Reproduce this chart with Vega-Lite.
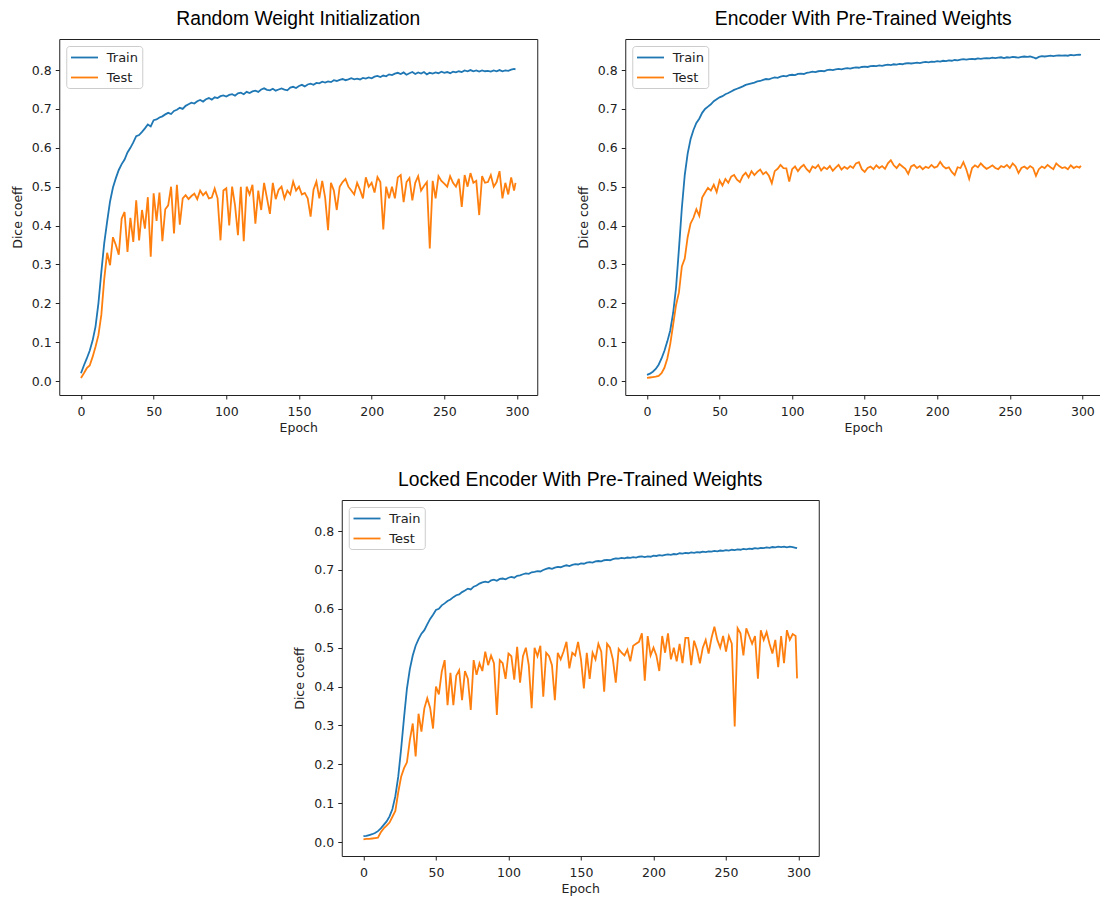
{
"$schema": "https://vega.github.io/schema/vega-lite/v6.json",
"padding": {"left": 10, "top": 9, "right": 0, "bottom": 0},
"background": "white",
"datasets": {
"a": [
{"e":0,"Train":0.020,"Test":0.008},{"e":2,"Train":0.040,"Test":0.020},{"e":4,"Train":0.058,"Test":0.033},{"e":6,"Train":0.078,"Test":0.040},{"e":8,"Train":0.104,"Test":0.062},{"e":10,"Train":0.140,"Test":0.088},{"e":12,"Train":0.200,"Test":0.118},{"e":14,"Train":0.280,"Test":0.170},{"e":16,"Train":0.355,"Test":0.262},{"e":18,"Train":0.410,"Test":0.330},
{"e":20,"Train":0.462,"Test":0.298},{"e":22,"Train":0.498,"Test":0.370},{"e":24,"Train":0.522,"Test":0.350},{"e":26,"Train":0.543,"Test":0.325},{"e":28,"Train":0.558,"Test":0.418},{"e":30,"Train":0.570,"Test":0.435},{"e":32,"Train":0.588,"Test":0.332},{"e":34,"Train":0.600,"Test":0.420},{"e":36,"Train":0.614,"Test":0.358},{"e":38,"Train":0.630,"Test":0.465},
{"e":40,"Train":0.633,"Test":0.362},{"e":42,"Train":0.641,"Test":0.440},{"e":44,"Train":0.650,"Test":0.392},{"e":46,"Train":0.660,"Test":0.473},{"e":48,"Train":0.655,"Test":0.320},{"e":50,"Train":0.671,"Test":0.483},{"e":52,"Train":0.673,"Test":0.412},{"e":54,"Train":0.678,"Test":0.485},{"e":56,"Train":0.681,"Test":0.360},{"e":58,"Train":0.686,"Test":0.442},
{"e":60,"Train":0.690,"Test":0.452},{"e":62,"Train":0.687,"Test":0.500},{"e":64,"Train":0.695,"Test":0.380},{"e":66,"Train":0.698,"Test":0.505},{"e":68,"Train":0.703,"Test":0.402},{"e":70,"Train":0.700,"Test":0.470},{"e":72,"Train":0.708,"Test":0.478},{"e":74,"Train":0.712,"Test":0.468},{"e":76,"Train":0.716,"Test":0.476},{"e":78,"Train":0.714,"Test":0.482},
{"e":80,"Train":0.720,"Test":0.468},{"e":82,"Train":0.723,"Test":0.490},{"e":84,"Train":0.719,"Test":0.478},{"e":86,"Train":0.725,"Test":0.486},{"e":88,"Train":0.728,"Test":0.470},{"e":90,"Train":0.724,"Test":0.472},{"e":92,"Train":0.730,"Test":0.495},{"e":94,"Train":0.728,"Test":0.470},{"e":96,"Train":0.733,"Test":0.362},{"e":98,"Train":0.735,"Test":0.490},
{"e":100,"Train":0.732,"Test":0.496},{"e":102,"Train":0.736,"Test":0.400},{"e":104,"Train":0.738,"Test":0.500},{"e":106,"Train":0.734,"Test":0.452},{"e":108,"Train":0.740,"Test":0.375},{"e":110,"Train":0.742,"Test":0.500},{"e":112,"Train":0.738,"Test":0.360},{"e":114,"Train":0.744,"Test":0.500},{"e":116,"Train":0.741,"Test":0.480},{"e":118,"Train":0.745,"Test":0.505},
{"e":120,"Train":0.747,"Test":0.405},{"e":122,"Train":0.744,"Test":0.490},{"e":124,"Train":0.750,"Test":0.440},{"e":126,"Train":0.753,"Test":0.510},{"e":128,"Train":0.749,"Test":0.470},{"e":130,"Train":0.748,"Test":0.430},{"e":132,"Train":0.752,"Test":0.510},{"e":134,"Train":0.747,"Test":0.468},{"e":136,"Train":0.750,"Test":0.492},{"e":138,"Train":0.753,"Test":0.500},
{"e":140,"Train":0.750,"Test":0.470},{"e":142,"Train":0.748,"Test":0.490},{"e":144,"Train":0.755,"Test":0.480},{"e":146,"Train":0.757,"Test":0.513},{"e":148,"Train":0.754,"Test":0.490},{"e":150,"Train":0.759,"Test":0.500},{"e":152,"Train":0.762,"Test":0.480},{"e":154,"Train":0.758,"Test":0.484},{"e":156,"Train":0.763,"Test":0.470},{"e":158,"Train":0.765,"Test":0.423},
{"e":160,"Train":0.762,"Test":0.492},{"e":162,"Train":0.767,"Test":0.513},{"e":164,"Train":0.766,"Test":0.470},{"e":166,"Train":0.770,"Test":0.515},{"e":168,"Train":0.768,"Test":0.472},{"e":170,"Train":0.771,"Test":0.388},{"e":172,"Train":0.769,"Test":0.510},{"e":174,"Train":0.774,"Test":0.490},{"e":176,"Train":0.772,"Test":0.440},{"e":178,"Train":0.775,"Test":0.500},
{"e":180,"Train":0.777,"Test":0.512},{"e":182,"Train":0.774,"Test":0.520},{"e":184,"Train":0.776,"Test":0.500},{"e":186,"Train":0.779,"Test":0.490},{"e":188,"Train":0.776,"Test":0.480},{"e":190,"Train":0.778,"Test":0.510},{"e":192,"Train":0.776,"Test":0.492},{"e":194,"Train":0.780,"Test":0.470},{"e":196,"Train":0.778,"Test":0.524},{"e":198,"Train":0.781,"Test":0.500},
{"e":200,"Train":0.779,"Test":0.510},{"e":202,"Train":0.783,"Test":0.485},{"e":204,"Train":0.785,"Test":0.525},{"e":206,"Train":0.782,"Test":0.512},{"e":208,"Train":0.786,"Test":0.390},{"e":210,"Train":0.784,"Test":0.500},{"e":212,"Train":0.789,"Test":0.470},{"e":214,"Train":0.787,"Test":0.500},{"e":216,"Train":0.791,"Test":0.470},{"e":218,"Train":0.793,"Test":0.524},
{"e":220,"Train":0.790,"Test":0.530},{"e":222,"Train":0.794,"Test":0.460},{"e":224,"Train":0.788,"Test":0.512},{"e":226,"Train":0.792,"Test":0.522},{"e":228,"Train":0.795,"Test":0.465},{"e":230,"Train":0.790,"Test":0.510},{"e":232,"Train":0.794,"Test":0.527},{"e":234,"Train":0.791,"Test":0.490},{"e":236,"Train":0.795,"Test":0.502},{"e":238,"Train":0.789,"Test":0.512},
{"e":240,"Train":0.793,"Test":0.341},{"e":242,"Train":0.791,"Test":0.515},{"e":244,"Train":0.794,"Test":0.470},{"e":246,"Train":0.792,"Test":0.527},{"e":248,"Train":0.796,"Test":0.515},{"e":250,"Train":0.793,"Test":0.508},{"e":252,"Train":0.795,"Test":0.500},{"e":254,"Train":0.792,"Test":0.527},{"e":256,"Train":0.796,"Test":0.510},{"e":258,"Train":0.794,"Test":0.500},
{"e":260,"Train":0.797,"Test":0.520},{"e":262,"Train":0.795,"Test":0.448},{"e":264,"Train":0.799,"Test":0.530},{"e":266,"Train":0.797,"Test":0.500},{"e":268,"Train":0.800,"Test":0.535},{"e":270,"Train":0.797,"Test":0.510},{"e":272,"Train":0.799,"Test":0.515},{"e":274,"Train":0.796,"Test":0.427},{"e":276,"Train":0.799,"Test":0.527},{"e":278,"Train":0.797,"Test":0.510},
{"e":280,"Train":0.798,"Test":0.512},{"e":282,"Train":0.796,"Test":0.530},{"e":284,"Train":0.799,"Test":0.500},{"e":286,"Train":0.797,"Test":0.512},{"e":288,"Train":0.800,"Test":0.540},{"e":290,"Train":0.797,"Test":0.470},{"e":292,"Train":0.799,"Test":0.510},{"e":294,"Train":0.798,"Test":0.480},{"e":296,"Train":0.801,"Test":0.524},{"e":298,"Train":0.803,"Test":0.490},{"e":299,"Train":0.802,"Test":0.510}
],
"b": [
{"e":0,"Train":0.016,"Test":0.008},{"e":2,"Train":0.019,"Test":0.009},{"e":4,"Train":0.024,"Test":0.010},{"e":6,"Train":0.031,"Test":0.011},{"e":8,"Train":0.042,"Test":0.013},{"e":10,"Train":0.058,"Test":0.020},{"e":12,"Train":0.078,"Test":0.034},{"e":14,"Train":0.102,"Test":0.058},{"e":16,"Train":0.130,"Test":0.095},{"e":18,"Train":0.175,"Test":0.145},
{"e":20,"Train":0.240,"Test":0.195},{"e":22,"Train":0.340,"Test":0.228},{"e":24,"Train":0.445,"Test":0.295},{"e":26,"Train":0.530,"Test":0.315},{"e":28,"Train":0.585,"Test":0.370},{"e":30,"Train":0.622,"Test":0.405},{"e":32,"Train":0.646,"Test":0.420},{"e":34,"Train":0.664,"Test":0.442},{"e":36,"Train":0.675,"Test":0.425},{"e":38,"Train":0.690,"Test":0.472},
{"e":40,"Train":0.700,"Test":0.485},{"e":42,"Train":0.706,"Test":0.497},{"e":44,"Train":0.712,"Test":0.490},{"e":46,"Train":0.720,"Test":0.505},{"e":48,"Train":0.725,"Test":0.486},{"e":50,"Train":0.730,"Test":0.516},{"e":52,"Train":0.733,"Test":0.503},{"e":54,"Train":0.738,"Test":0.520},{"e":56,"Train":0.741,"Test":0.510},{"e":58,"Train":0.745,"Test":0.526},
{"e":60,"Train":0.749,"Test":0.530},{"e":62,"Train":0.752,"Test":0.518},{"e":64,"Train":0.755,"Test":0.512},{"e":66,"Train":0.758,"Test":0.528},{"e":68,"Train":0.762,"Test":0.536},{"e":70,"Train":0.764,"Test":0.524},{"e":72,"Train":0.766,"Test":0.540},{"e":74,"Train":0.768,"Test":0.530},{"e":76,"Train":0.771,"Test":0.538},{"e":78,"Train":0.772,"Test":0.544},
{"e":80,"Train":0.775,"Test":0.532},{"e":82,"Train":0.777,"Test":0.538},{"e":84,"Train":0.776,"Test":0.528},{"e":86,"Train":0.779,"Test":0.509},{"e":88,"Train":0.781,"Test":0.540},{"e":90,"Train":0.780,"Test":0.546},{"e":92,"Train":0.783,"Test":0.556},{"e":94,"Train":0.785,"Test":0.548},{"e":96,"Train":0.784,"Test":0.547},{"e":98,"Train":0.787,"Test":0.513},
{"e":100,"Train":0.788,"Test":0.545},{"e":102,"Train":0.787,"Test":0.552},{"e":104,"Train":0.790,"Test":0.540},{"e":106,"Train":0.791,"Test":0.550},{"e":108,"Train":0.790,"Test":0.556},{"e":110,"Train":0.793,"Test":0.545},{"e":112,"Train":0.794,"Test":0.538},{"e":114,"Train":0.796,"Test":0.552},{"e":116,"Train":0.795,"Test":0.548},{"e":118,"Train":0.797,"Test":0.556},
{"e":120,"Train":0.798,"Test":0.542},{"e":122,"Train":0.797,"Test":0.550},{"e":124,"Train":0.800,"Test":0.545},{"e":126,"Train":0.801,"Test":0.553},{"e":128,"Train":0.800,"Test":0.541},{"e":130,"Train":0.802,"Test":0.549},{"e":132,"Train":0.803,"Test":0.556},{"e":134,"Train":0.802,"Test":0.544},{"e":136,"Train":0.804,"Test":0.551},{"e":138,"Train":0.805,"Test":0.546},
{"e":140,"Train":0.804,"Test":0.553},{"e":142,"Train":0.806,"Test":0.548},{"e":144,"Train":0.807,"Test":0.560},{"e":146,"Train":0.806,"Test":0.563},{"e":148,"Train":0.808,"Test":0.545},{"e":150,"Train":0.809,"Test":0.538},{"e":152,"Train":0.808,"Test":0.548},{"e":154,"Train":0.810,"Test":0.552},{"e":156,"Train":0.811,"Test":0.545},{"e":158,"Train":0.810,"Test":0.555},
{"e":160,"Train":0.812,"Test":0.548},{"e":162,"Train":0.811,"Test":0.553},{"e":164,"Train":0.813,"Test":0.546},{"e":166,"Train":0.814,"Test":0.560},{"e":168,"Train":0.813,"Test":0.568},{"e":170,"Train":0.815,"Test":0.555},{"e":172,"Train":0.814,"Test":0.548},{"e":174,"Train":0.816,"Test":0.558},{"e":176,"Train":0.815,"Test":0.552},{"e":178,"Train":0.817,"Test":0.546},
{"e":180,"Train":0.818,"Test":0.533},{"e":182,"Train":0.817,"Test":0.552},{"e":184,"Train":0.818,"Test":0.556},{"e":186,"Train":0.819,"Test":0.548},{"e":188,"Train":0.818,"Test":0.553},{"e":190,"Train":0.820,"Test":0.545},{"e":192,"Train":0.821,"Test":0.551},{"e":194,"Train":0.820,"Test":0.548},{"e":196,"Train":0.822,"Test":0.556},{"e":198,"Train":0.821,"Test":0.549},
{"e":200,"Train":0.823,"Test":0.552},{"e":202,"Train":0.822,"Test":0.564},{"e":204,"Train":0.824,"Test":0.553},{"e":206,"Train":0.823,"Test":0.547},{"e":208,"Train":0.825,"Test":0.550},{"e":210,"Train":0.824,"Test":0.538},{"e":212,"Train":0.826,"Test":0.530},{"e":214,"Train":0.825,"Test":0.550},{"e":216,"Train":0.827,"Test":0.548},{"e":218,"Train":0.828,"Test":0.563},
{"e":220,"Train":0.827,"Test":0.545},{"e":222,"Train":0.828,"Test":0.520},{"e":224,"Train":0.829,"Test":0.548},{"e":226,"Train":0.828,"Test":0.555},{"e":228,"Train":0.830,"Test":0.550},{"e":230,"Train":0.829,"Test":0.560},{"e":232,"Train":0.830,"Test":0.552},{"e":234,"Train":0.831,"Test":0.546},{"e":236,"Train":0.830,"Test":0.550},{"e":238,"Train":0.832,"Test":0.555},
{"e":240,"Train":0.831,"Test":0.548},{"e":242,"Train":0.832,"Test":0.545},{"e":244,"Train":0.833,"Test":0.553},{"e":246,"Train":0.831,"Test":0.550},{"e":248,"Train":0.833,"Test":0.556},{"e":250,"Train":0.832,"Test":0.548},{"e":252,"Train":0.834,"Test":0.560},{"e":254,"Train":0.833,"Test":0.552},{"e":256,"Train":0.832,"Test":0.535},{"e":258,"Train":0.834,"Test":0.548},
{"e":260,"Train":0.835,"Test":0.552},{"e":262,"Train":0.834,"Test":0.546},{"e":264,"Train":0.835,"Test":0.553},{"e":266,"Train":0.833,"Test":0.548},{"e":268,"Train":0.830,"Test":0.528},{"e":270,"Train":0.834,"Test":0.545},{"e":272,"Train":0.836,"Test":0.552},{"e":274,"Train":0.835,"Test":0.548},{"e":276,"Train":0.836,"Test":0.556},{"e":278,"Train":0.837,"Test":0.550},
{"e":280,"Train":0.836,"Test":0.545},{"e":282,"Train":0.837,"Test":0.560},{"e":284,"Train":0.838,"Test":0.553},{"e":286,"Train":0.837,"Test":0.548},{"e":288,"Train":0.838,"Test":0.550},{"e":290,"Train":0.837,"Test":0.545},{"e":292,"Train":0.839,"Test":0.555},{"e":294,"Train":0.838,"Test":0.548},{"e":296,"Train":0.839,"Test":0.552},{"e":298,"Train":0.840,"Test":0.549},{"e":299,"Train":0.839,"Test":0.554}
],
"c": [
{"e":0,"Train":0.015,"Test":0.007},{"e":2,"Train":0.016,"Test":0.008},{"e":4,"Train":0.018,"Test":0.008},{"e":6,"Train":0.020,"Test":0.009},{"e":8,"Train":0.023,"Test":0.010},{"e":10,"Train":0.028,"Test":0.011},{"e":12,"Train":0.035,"Test":0.025},{"e":14,"Train":0.044,"Test":0.035},{"e":16,"Train":0.053,"Test":0.042},{"e":18,"Train":0.066,"Test":0.050},
{"e":20,"Train":0.085,"Test":0.065},{"e":22,"Train":0.118,"Test":0.080},{"e":24,"Train":0.168,"Test":0.128},{"e":26,"Train":0.240,"Test":0.168},{"e":28,"Train":0.320,"Test":0.190},{"e":30,"Train":0.395,"Test":0.205},{"e":32,"Train":0.445,"Test":0.262},{"e":34,"Train":0.480,"Test":0.305},{"e":36,"Train":0.505,"Test":0.220},{"e":38,"Train":0.522,"Test":0.330},
{"e":40,"Train":0.536,"Test":0.284},{"e":42,"Train":0.545,"Test":0.344},{"e":44,"Train":0.560,"Test":0.370},{"e":46,"Train":0.574,"Test":0.345},{"e":48,"Train":0.585,"Test":0.292},{"e":50,"Train":0.597,"Test":0.400},{"e":52,"Train":0.600,"Test":0.380},{"e":54,"Train":0.609,"Test":0.438},{"e":56,"Train":0.614,"Test":0.468},{"e":58,"Train":0.620,"Test":0.352},
{"e":60,"Train":0.624,"Test":0.435},{"e":62,"Train":0.630,"Test":0.352},{"e":64,"Train":0.635,"Test":0.428},{"e":66,"Train":0.637,"Test":0.442},{"e":68,"Train":0.643,"Test":0.365},{"e":70,"Train":0.647,"Test":0.440},{"e":72,"Train":0.652,"Test":0.420},{"e":74,"Train":0.650,"Test":0.340},{"e":76,"Train":0.657,"Test":0.468},{"e":78,"Train":0.660,"Test":0.430},
{"e":80,"Train":0.665,"Test":0.460},{"e":82,"Train":0.668,"Test":0.440},{"e":84,"Train":0.670,"Test":0.490},{"e":86,"Train":0.668,"Test":0.455},{"e":88,"Train":0.673,"Test":0.480},{"e":90,"Train":0.675,"Test":0.460},{"e":92,"Train":0.672,"Test":0.327},{"e":94,"Train":0.677,"Test":0.468},{"e":96,"Train":0.678,"Test":0.460},{"e":98,"Train":0.676,"Test":0.420},
{"e":100,"Train":0.680,"Test":0.485},{"e":102,"Train":0.682,"Test":0.478},{"e":104,"Train":0.680,"Test":0.418},{"e":106,"Train":0.685,"Test":0.502},{"e":108,"Train":0.686,"Test":0.410},{"e":110,"Train":0.689,"Test":0.478},{"e":112,"Train":0.691,"Test":0.500},{"e":114,"Train":0.690,"Test":0.455},{"e":116,"Train":0.694,"Test":0.344},{"e":118,"Train":0.695,"Test":0.500},
{"e":120,"Train":0.697,"Test":0.478},{"e":122,"Train":0.696,"Test":0.505},{"e":124,"Train":0.700,"Test":0.374},{"e":126,"Train":0.703,"Test":0.487},{"e":128,"Train":0.705,"Test":0.478},{"e":130,"Train":0.703,"Test":0.455},{"e":132,"Train":0.706,"Test":0.365},{"e":134,"Train":0.708,"Test":0.487},{"e":136,"Train":0.707,"Test":0.470},{"e":138,"Train":0.710,"Test":0.490},
{"e":140,"Train":0.712,"Test":0.515},{"e":142,"Train":0.710,"Test":0.447},{"e":144,"Train":0.713,"Test":0.487},{"e":146,"Train":0.715,"Test":0.480},{"e":148,"Train":0.714,"Test":0.515},{"e":150,"Train":0.717,"Test":0.470},{"e":152,"Train":0.716,"Test":0.395},{"e":154,"Train":0.719,"Test":0.487},{"e":156,"Train":0.720,"Test":0.420},{"e":158,"Train":0.719,"Test":0.487},
{"e":160,"Train":0.722,"Test":0.470},{"e":162,"Train":0.723,"Test":0.510},{"e":164,"Train":0.722,"Test":0.490},{"e":166,"Train":0.725,"Test":0.387},{"e":168,"Train":0.726,"Test":0.510},{"e":170,"Train":0.725,"Test":0.500},{"e":172,"Train":0.728,"Test":0.470},{"e":174,"Train":0.730,"Test":0.410},{"e":176,"Train":0.729,"Test":0.497},{"e":178,"Train":0.731,"Test":0.487},
{"e":180,"Train":0.730,"Test":0.480},{"e":182,"Train":0.732,"Test":0.495},{"e":184,"Train":0.731,"Test":0.465},{"e":186,"Train":0.733,"Test":0.505},{"e":188,"Train":0.732,"Test":0.510},{"e":190,"Train":0.734,"Test":0.515},{"e":192,"Train":0.735,"Test":0.537},{"e":194,"Train":0.733,"Test":0.415},{"e":196,"Train":0.735,"Test":0.530},{"e":198,"Train":0.734,"Test":0.480},
{"e":200,"Train":0.737,"Test":0.500},{"e":202,"Train":0.736,"Test":0.480},{"e":204,"Train":0.738,"Test":0.440},{"e":206,"Train":0.737,"Test":0.530},{"e":208,"Train":0.739,"Test":0.487},{"e":210,"Train":0.740,"Test":0.537},{"e":212,"Train":0.739,"Test":0.470},{"e":214,"Train":0.741,"Test":0.500},{"e":216,"Train":0.740,"Test":0.465},{"e":218,"Train":0.743,"Test":0.510},
{"e":220,"Train":0.742,"Test":0.460},{"e":222,"Train":0.744,"Test":0.525},{"e":224,"Train":0.743,"Test":0.525},{"e":226,"Train":0.745,"Test":0.455},{"e":228,"Train":0.744,"Test":0.518},{"e":230,"Train":0.746,"Test":0.495},{"e":232,"Train":0.745,"Test":0.460},{"e":234,"Train":0.747,"Test":0.500},{"e":236,"Train":0.746,"Test":0.520},{"e":238,"Train":0.748,"Test":0.485},
{"e":240,"Train":0.747,"Test":0.525},{"e":242,"Train":0.749,"Test":0.554},{"e":244,"Train":0.748,"Test":0.520},{"e":246,"Train":0.750,"Test":0.500},{"e":248,"Train":0.749,"Test":0.530},{"e":250,"Train":0.751,"Test":0.490},{"e":252,"Train":0.750,"Test":0.530},{"e":254,"Train":0.752,"Test":0.510},{"e":256,"Train":0.751,"Test":0.297},{"e":258,"Train":0.753,"Test":0.550},
{"e":260,"Train":0.752,"Test":0.537},{"e":262,"Train":0.754,"Test":0.480},{"e":264,"Train":0.753,"Test":0.550},{"e":266,"Train":0.755,"Test":0.530},{"e":268,"Train":0.754,"Test":0.510},{"e":270,"Train":0.756,"Test":0.530},{"e":272,"Train":0.755,"Test":0.420},{"e":274,"Train":0.757,"Test":0.545},{"e":276,"Train":0.756,"Test":0.520},{"e":278,"Train":0.758,"Test":0.540},
{"e":280,"Train":0.757,"Test":0.510},{"e":282,"Train":0.759,"Test":0.485},{"e":284,"Train":0.758,"Test":0.520},{"e":286,"Train":0.760,"Test":0.450},{"e":288,"Train":0.759,"Test":0.530},{"e":290,"Train":0.760,"Test":0.460},{"e":292,"Train":0.758,"Test":0.545},{"e":294,"Train":0.760,"Test":0.520},{"e":296,"Train":0.759,"Test":0.535},{"e":298,"Train":0.757,"Test":0.530},{"e":299,"Train":0.756,"Test":0.421}
]
},
"vconcat": [
{
"hconcat": [
{
"width": 478, "height": 356,
"title": {"text": "Random Weight Initialization"},
"data": {"name": "a"},
"transform": [{"fold": ["Train", "Test"], "as": ["series", "value"]}],
"mark": {"type": "line", "strokeWidth": 1.8},
"encoding": {
"x": {"field": "e", "type": "quantitative", "scale": {"domain": [-14.95, 313.95], "nice": false, "zero": false}, "axis": {"values": [0, 50, 100, 150, 200, 250, 300], "title": "Epoch"}},
"y": {"field": "value", "type": "quantitative", "scale": {"domain": [-0.036, 0.88], "nice": false, "zero": false}, "axis": {"values": [0, 0.1, 0.2, 0.3, 0.4, 0.5, 0.6, 0.7, 0.8], "format": ".1f", "title": "Dice coeff"}},
"color": {"field": "series", "type": "nominal", "scale": {"domain": ["Train", "Test"], "range": ["#1f77b4", "#ff7f0e"]}, "legend": {"title": null, "orient": "top-left"}}
}
},
{
"width": 476, "height": 356,
"title": {"text": "Encoder With Pre-Trained Weights"},
"data": {"name": "b"},
"transform": [{"fold": ["Train", "Test"], "as": ["series", "value"]}],
"mark": {"type": "line", "strokeWidth": 1.8},
"encoding": {
"x": {"field": "e", "type": "quantitative", "scale": {"domain": [-15, 313], "nice": false, "zero": false}, "axis": {"values": [0, 50, 100, 150, 200, 250, 300], "title": "Epoch"}},
"y": {"field": "value", "type": "quantitative", "scale": {"domain": [-0.036, 0.88], "nice": false, "zero": false}, "axis": {"values": [0, 0.1, 0.2, 0.3, 0.4, 0.5, 0.6, 0.7, 0.8], "format": ".1f", "title": "Dice coeff"}},
"color": {"field": "series", "type": "nominal", "scale": {"domain": ["Train", "Test"], "range": ["#1f77b4", "#ff7f0e"]}, "legend": {"title": null, "orient": "top-left"}}
}
}
],
"spacing": 38,
"resolve": {"scale": {"color": "independent"}, "legend": {"color": "independent"}}
},
{
"width": 477, "height": 356,
"title": {"text": "Locked Encoder With Pre-Trained Weights"},
"data": {"name": "c"},
"transform": [{"fold": ["Train", "Test"], "as": ["series", "value"]}],
"mark": {"type": "line", "strokeWidth": 1.8},
"encoding": {
"x": {"field": "e", "type": "quantitative", "scale": {"domain": [-14.95, 313.95], "nice": false, "zero": false}, "axis": {"values": [0, 50, 100, 150, 200, 250, 300], "title": "Epoch"}},
"y": {"field": "value", "type": "quantitative", "scale": {"domain": [-0.036, 0.88], "nice": false, "zero": false}, "axis": {"values": [0, 0.1, 0.2, 0.3, 0.4, 0.5, 0.6, 0.7, 0.8], "format": ".1f", "title": "Dice coeff"}},
"color": {"field": "series", "type": "nominal", "scale": {"domain": ["Train", "Test"], "range": ["#1f77b4", "#ff7f0e"]}, "legend": {"title": null, "orient": "top-left"}}
}
}
],
"spacing": 35,
"center": true,
"resolve": {"scale": {"color": "independent"}, "legend": {"color": "independent"}},
"config": {
"view": {"stroke": "#222222", "strokeWidth": 1},
"font": "DejaVu Sans",
"axis": {"grid": false, "domain": false, "tickColor": "#222222", "tickSize": 4, "labelFont": "DejaVu Sans", "labelFontSize": 12.5, "labelColor": "#222222", "labelPadding": 4, "titleFont": "DejaVu Sans", "titleFontSize": 12.5, "titleFontWeight": "normal", "titleColor": "#222222"},
"axisX": {"titlePadding": 4, "labelPadding": 6},
"axisY": {"titlePadding": 7},
"title": {"font": "Liberation Sans", "fontSize": 19.3, "fontWeight": "normal", "color": "#000000", "anchor": "middle", "frame": "group", "offset": 10},
"legend": {"strokeColor": "#cccccc", "fillColor": "rgba(255,255,255,0.8)", "cornerRadius": 3, "padding": 3.5, "offset": 7, "symbolType": "M-1,0H3", "symbolSize": 182, "symbolStrokeWidth": 1.8, "labelFont": "DejaVu Sans", "labelFontSize": 13, "labelColor": "#222222", "labelOffset": 21, "rowPadding": 5}
}
}
